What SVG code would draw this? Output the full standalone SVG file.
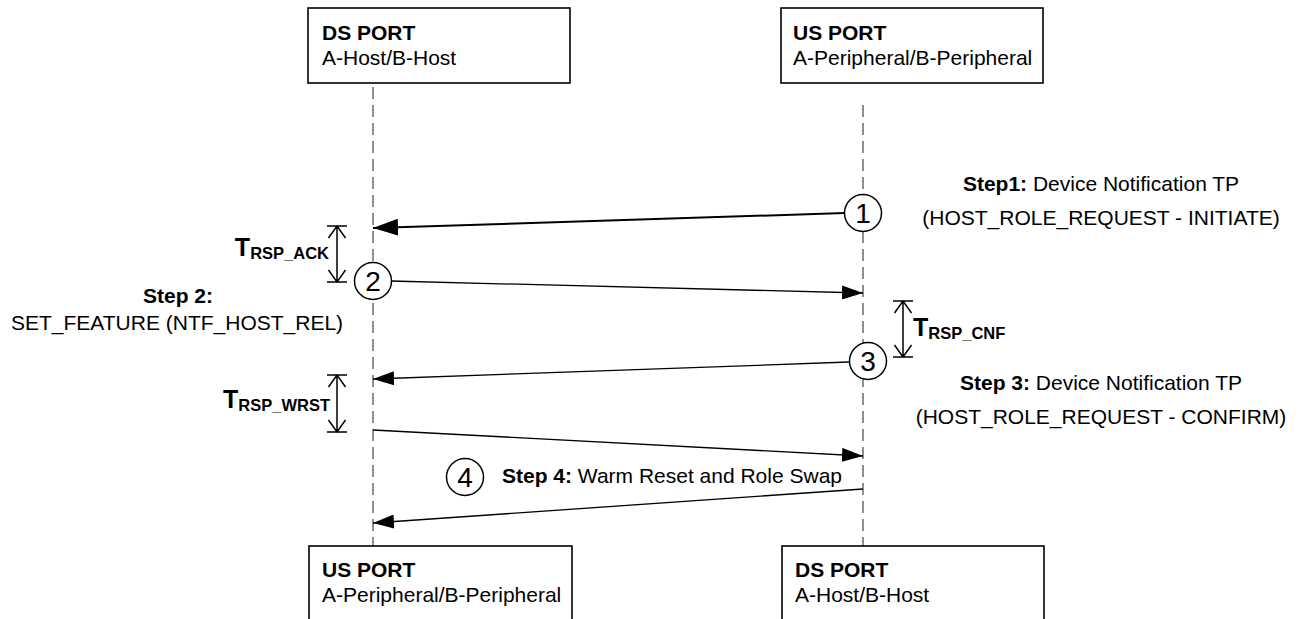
<svg xmlns="http://www.w3.org/2000/svg" width="1303" height="619" viewBox="0 0 1303 619">
  <style>
    text { font-family: "Liberation Sans", Arial, sans-serif; fill: #000; }
    .lbl { font-size: 21px; }
    .b { font-weight: bold; }
    .box { fill: #fff; stroke: #000; stroke-width: 1.6; }
    .life { stroke: #555; stroke-width: 1.3; stroke-dasharray: 12 6; fill: none; }
    .msg { stroke: #000; stroke-width: 1.3; fill: none; }
    .msg-heavy { stroke: #000; stroke-width: 2; fill: none; }
    .step { fill: #fff; stroke: #000; stroke-width: 1.5; }
    .num { font-size: 28px; text-anchor: middle; }
    .dim { stroke: #000; stroke-width: 1.5; fill: none; }
    .tbig { font-size: 25px; font-weight: bold; }
    .tsub { font-size: 16.5px; font-weight: bold; }
  </style>
  <defs>
    <marker id="arrow" viewBox="0 0 21 14" refX="21" refY="7" markerWidth="21" markerHeight="14" markerUnits="userSpaceOnUse" orient="auto">
      <path d="M0,0 L21,7 L0,14 z" fill="#000"/>
    </marker>
    <marker id="arrow-lg" viewBox="0 0 25 17" refX="25" refY="8.5" markerWidth="25" markerHeight="17" markerUnits="userSpaceOnUse" orient="auto">
      <path d="M0,0 L25,8.5 L0,17 z" fill="#000"/>
    </marker>
  </defs>

  <!-- lifelines and messages -->
  <g id="connectors">
    <line class="life" x1="373" y1="87" x2="373" y2="546"/>
    <line class="life" x1="863" y1="105" x2="863" y2="546"/>
    <line id="msg1" class="msg-heavy" x1="845" y1="213" x2="373" y2="228" marker-end="url(#arrow-lg)"/>
    <line id="msg2" class="msg" x1="391" y1="281" x2="863" y2="293" marker-end="url(#arrow)"/>
    <line id="msg3" class="msg" x1="849" y1="362" x2="373" y2="379" marker-end="url(#arrow)"/>
    <line id="msg4" class="msg" x1="373" y1="430" x2="863" y2="456" marker-end="url(#arrow)"/>
    <line id="msg5" class="msg" x1="863" y1="489" x2="373" y2="523" marker-end="url(#arrow)"/>
  </g>

  <!-- port boxes -->
  <g id="ds-port-top">
    <rect class="box" x="308" y="8" width="262" height="75"/>
    <text class="lbl b" x="322" y="40">DS PORT</text>
    <text class="lbl" x="322" y="65">A-Host/B-Host</text>
  </g>
  <g id="us-port-top">
    <rect class="box" x="781" y="8" width="262" height="75"/>
    <text class="lbl b" x="793" y="40">US PORT</text>
    <text class="lbl" x="793" y="65">A-Peripheral/B-Peripheral</text>
  </g>
  <g id="us-port-bottom">
    <rect class="box" x="309" y="546" width="263" height="80"/>
    <text class="lbl b" x="322" y="577">US PORT</text>
    <text class="lbl" x="322" y="602">A-Peripheral/B-Peripheral</text>
  </g>
  <g id="ds-port-bottom">
    <rect class="box" x="782" y="546" width="262" height="80"/>
    <text class="lbl b" x="795" y="577">DS PORT</text>
    <text class="lbl" x="795" y="602">A-Host/B-Host</text>
  </g>

  <!-- step markers -->
  <g id="step1">
    <circle class="step" cx="863" cy="213" r="18.5"/>
    <text class="num" x="863" y="223">1</text>
    <text class="lbl" x="1101" y="191" text-anchor="middle"><tspan class="b">Step1:</tspan> Device Notification TP</text>
    <text class="lbl" x="1101" y="225" text-anchor="middle">(HOST_ROLE_REQUEST - INITIATE)</text>
  </g>
  <g id="step2">
    <circle class="step" cx="373" cy="281" r="18.5"/>
    <text class="num" x="373" y="291">2</text>
    <text class="lbl b" x="178" y="303" text-anchor="middle">Step 2:</text>
    <text class="lbl" x="177" y="330" text-anchor="middle">SET_FEATURE (NTF_HOST_REL)</text>
  </g>
  <g id="step3">
    <circle class="step" cx="868" cy="361" r="18.5"/>
    <text class="num" x="868" y="371">3</text>
    <text class="lbl" x="1101" y="390" text-anchor="middle"><tspan class="b">Step 3:</tspan> Device Notification TP</text>
    <text class="lbl" x="1101" y="424" text-anchor="middle">(HOST_ROLE_REQUEST - CONFIRM)</text>
  </g>
  <g id="step4">
    <circle class="step" cx="465" cy="477" r="18.5"/>
    <text class="num" x="465" y="487">4</text>
    <text class="lbl" x="502" y="483"><tspan class="b">Step 4:</tspan> Warm Reset and Role Swap</text>
  </g>

  <!-- response timers -->
  <g id="t-rsp-ack">
    <path class="dim" d="M327,226 H347 M337,226 V282 M327,282 H347 M328.5,238 L337,226 L345.5,238 M328.5,270 L337,282 L345.5,270"/>
    <text x="329" y="256" text-anchor="end"><tspan class="tbig">T</tspan><tspan class="tsub" dy="3">RSP_ACK</tspan></text>
  </g>
  <g id="t-rsp-cnf">
    <path class="dim" d="M893,301 H913 M903,301 V357 M893,357 H913 M894.5,313 L903,301 L911.5,313 M894.5,345 L903,357 L911.5,345"/>
    <text x="913" y="336"><tspan class="tbig">T</tspan><tspan class="tsub" dy="3">RSP_CNF</tspan></text>
  </g>
  <g id="t-rsp-wrst">
    <path class="dim" d="M327,375 H347 M337,375 V432 M327,432 H347 M328.5,387 L337,375 L345.5,387 M328.5,420 L337,432 L345.5,420"/>
    <text x="330" y="408" text-anchor="end"><tspan class="tbig">T</tspan><tspan class="tsub" dy="3">RSP_WRST</tspan></text>
  </g>
</svg>
